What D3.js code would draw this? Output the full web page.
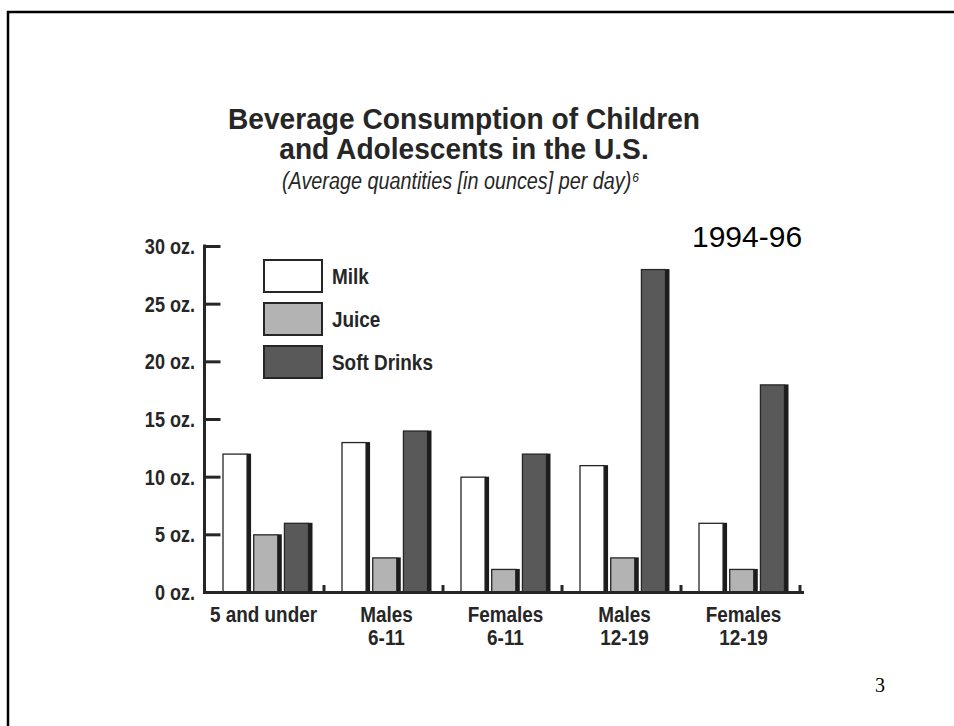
<!DOCTYPE html>
<html>
<head>
<meta charset="utf-8">
<script src="https://cdn.jsdelivr.net/npm/d3@7"></script>
<style>
  html, body { margin: 0; padding: 0; background: #fff; }
  svg { display: block; }
</style>
</head>
<body>
<svg id="chart" width="954" height="726"></svg>
<script>
// Beverage consumption data (ounces per day), 1994-96
const categories = [["5 and under"], ["Males", "6-11"], ["Females", "6-11"], ["Males", "12-19"], ["Females", "12-19"]];
const seriesNames = ["Milk", "Juice", "Soft Drinks"];
const milk = [12, 13, 10, 11, 6];
const juice = [5, 3, 2, 3, 2];
const softDrinks = [6, 14, 12, 28, 18];
const yTicks = [0, 5, 10, 15, 20, 25, 30];
const yTickLabels = ["0 oz.", "5 oz.", "10 oz.", "15 oz.", "20 oz.", "25 oz.", "30 oz."];

const seriesValues = [milk, juice, softDrinks];
const fills = ["#ffffff", "#b3b3b3", "#595959"];
const ink = "#262626";
const sans = "'Liberation Sans', Arial, sans-serif";

// Squeeze a text element horizontally to give it a condensed look
function condense(sel, k) {
  sel.each(function() {
    const len = this.getComputedTextLength();
    d3.select(this).attr("textLength", len * k).attr("lengthAdjust", "spacingAndGlyphs");
  });
}

const svg = d3.select("#chart");

// Slide frame (top and left edges)
svg.append("path")
  .attr("d", "M8,726 L8,12 L954,12")
  .attr("fill", "none")
  .attr("stroke", "#000")
  .attr("stroke-width", 2.5);

// Titles
["Beverage Consumption of Children", "and Adolescents in the U.S."].forEach((t, i) => {
  svg.append("text")
    .attr("x", 464).attr("y", 129 + i * 30)
    .attr("text-anchor", "middle")
    .attr("font-family", sans)
    .attr("font-weight", "bold").attr("font-size", 29)
    .attr("fill", ink)
    .text(t)
    .call(condense, 0.97);
});
const sub = svg.append("text")
  .attr("x", 282).attr("y", 189)
  .attr("font-family", sans)
  .attr("font-style", "italic").attr("font-size", 23)
  .attr("fill", ink)
  .text("(Average quantities [in ounces] per day)")
  .call(condense, 0.86);
svg.append("text")
  .attr("x", 282 + (+sub.node().getAttribute("textLength")) + 1).attr("y", 182)
  .attr("font-family", sans)
  .attr("font-style", "italic").attr("font-size", 12)
  .attr("fill", ink)
  .text("6");

// Period label
svg.append("text")
  .attr("x", 692).attr("y", 247)
  .attr("font-family", sans)
  .attr("font-size", 30)
  .attr("fill", "#000")
  .text("1994-96");

// Page number
svg.append("text")
  .attr("x", 880).attr("y", 692)
  .attr("text-anchor", "middle")
  .attr("font-family", "'Liberation Serif', 'Times New Roman', serif")
  .attr("font-size", 20)
  .attr("fill", "#000")
  .text("3");

// Scales
const x0 = d3.scaleBand()
  .domain(d3.range(categories.length))
  .range([208, 803])
  .paddingInner(0).paddingOuter(0);
const bw = x0.bandwidth();
const x1 = d3.scaleBand()
  .domain(d3.range(seriesNames.length))
  .range([(bw - 90) / 2, (bw + 90) / 2])
  .paddingInner(0.07);
const y = d3.scaleLinear().domain([0, 30]).range([592, 246]);

// Bars: outlined fill with a dark shadow strip on the right side
const shadowW = 4;
const groups = svg.append("g").selectAll("g")
  .data(categories.map((c, i) => i))
  .join("g")
  .attr("transform", i => `translate(${x0(i)},0)`);

groups.each(function(ci) {
  const g = d3.select(this);
  seriesValues.forEach((vals, si) => {
    const v = vals[ci];
    const bx = x1(si);
    const w = x1.bandwidth();
    g.append("rect")
      .attr("x", bx + 0.5)
      .attr("y", y(v) + 0.5)
      .attr("width", w - shadowW - 0.5)
      .attr("height", y(0) - y(v))
      .attr("fill", fills[si])
      .attr("stroke", ink)
      .attr("stroke-width", 1.3);
    g.append("rect")
      .attr("x", bx + w - shadowW)
      .attr("y", y(v))
      .attr("width", shadowW)
      .attr("height", y(0) - y(v))
      .attr("fill", "#1c1c1c");
  });
});

// Y axis
const yAxis = d3.axisRight(y)
  .tickValues(yTicks)
  .tickSize(16)
  .tickFormat("");
const yg = svg.append("g")
  .attr("transform", "translate(204.5,0)")
  .call(yAxis);
yg.select(".domain").remove();
yg.selectAll(".tick line").attr("stroke", ink).attr("stroke-width", 3);
svg.append("line")
  .attr("x1", 204.5).attr("x2", 204.5)
  .attr("y1", y(30) - 1.5).attr("y2", y(0) + 1.5)
  .attr("stroke", ink).attr("stroke-width", 3);

svg.append("g").selectAll("text")
  .data(yTicks)
  .join("text")
  .attr("x", 195)
  .attr("y", d => y(d) + 8)
  .attr("text-anchor", "end")
  .attr("font-family", sans)
  .attr("font-weight", "bold")
  .attr("font-size", 22)
  .attr("fill", ink)
  .text((d, i) => yTickLabels[i])
  .call(condense, 0.82);

// Baseline with group dividers
svg.append("line")
  .attr("x1", 203).attr("x2", 804)
  .attr("y1", y(0) + 0.5).attr("y2", y(0) + 0.5)
  .attr("stroke", ink).attr("stroke-width", 3);
svg.append("g").selectAll("line")
  .data(d3.range(1, categories.length + 1))
  .join("line")
  .attr("x1", i => x0.range()[0] + i * x0.step() - 3)
  .attr("x2", i => x0.range()[0] + i * x0.step() - 3)
  .attr("y1", y(0) - 7).attr("y2", y(0))
  .attr("stroke", ink).attr("stroke-width", 3);

// Category labels (one text per line)
categories.forEach((lines, i) => {
  lines.forEach((line, j) => {
    svg.append("text")
      .attr("x", x0(i) + bw / 2 - (lines.length === 1 ? 4 : 0))
      .attr("y", 622 + j * 23)
      .attr("text-anchor", "middle")
      .attr("font-family", sans)
      .attr("font-weight", "bold")
      .attr("font-size", 22.5)
      .attr("fill", ink)
      .text(line)
      .call(condense, 0.84);
  });
});

// Legend
const legend = svg.append("g").attr("transform", "translate(264,260)");
seriesNames.forEach((name, i) => {
  const row = legend.append("g").attr("transform", `translate(0,${i * 43})`);
  row.append("rect")
    .attr("width", 58).attr("height", 32)
    .attr("fill", fills[i])
    .attr("stroke", ink)
    .attr("stroke-width", 2);
  row.append("text")
    .attr("x", 68).attr("y", 24)
    .attr("font-family", sans)
    .attr("font-weight", "bold")
    .attr("font-size", 22)
    .attr("fill", ink)
    .text(name)
    .call(condense, 0.86);
});
</script>
</body>
</html>
